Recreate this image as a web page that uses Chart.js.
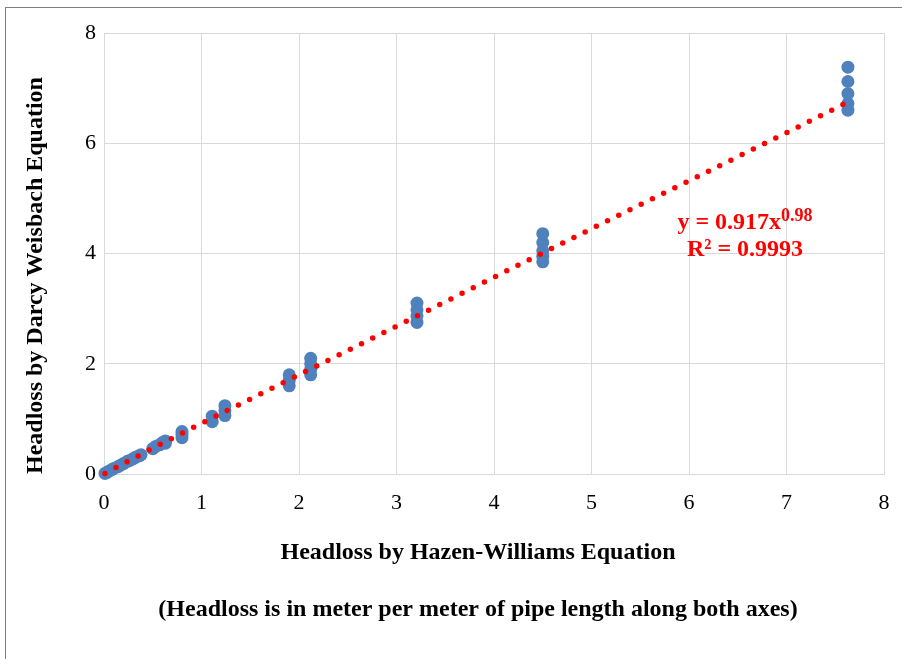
<!DOCTYPE html>
<html>
<head>
<meta charset="utf-8">
<script src="https://cdn.jsdelivr.net/npm/chart.js@4.4.1/dist/chart.umd.min.js"></script>
<style>
  html, body { margin: 0; padding: 0; background: #fff; width: 902px; height: 659px; overflow: hidden; }
  #frame { position: absolute; left: 5px; top: 7px; width: 910px; height: 670px; border-left: 1.5px solid #7f7f7f; border-top: 1.5px solid #7f7f7f; }
  #wrap { position: absolute; left: 0; top: 0; width: 902px; height: 659px; }
  #eq { position: absolute; left: 645px; width: 200px; top: 208px; text-align: center; font: bold 24px "Liberation Serif", "Times New Roman", serif; color: #ff0000; line-height: 27px; }
  #eq sup { font-size: 18px; vertical-align: 8px; line-height: 0; }
</style>
</head>
<body>
<div id="frame"></div>
<div id="wrap"><canvas id="c" width="902" height="659"></canvas></div>
<div id="eq">y = 0.917x<sup>0.98</sup><br>R² = 0.9993</div>
<script>
const hazenWilliams = [
  0.01, 0.03, 0.05, 0.08, 0.10, 0.14, 0.17, 0.20, 0.24, 0.27, 0.30, 0.33, 0.36, 0.38,
  0.50, 0.53, 0.57, 0.60, 0.63, 0.63,
  0.80, 0.80, 0.80,
  1.11, 1.11,
  1.24, 1.24, 1.24,
  1.90, 1.90, 1.90,
  2.12, 2.12, 2.12, 2.12,
  3.21, 3.21, 3.21, 3.21,
  4.50, 4.50, 4.50, 4.50, 4.50,
  7.63, 7.63, 7.63, 7.63, 7.63
];
const darcyWeisbach = [
  0.01, 0.03, 0.05, 0.08, 0.10, 0.13, 0.16, 0.19, 0.23, 0.25, 0.28, 0.31, 0.33, 0.35,
  0.46, 0.50, 0.53, 0.57, 0.56, 0.60,
  0.66, 0.72, 0.77,
  0.95, 1.05,
  1.06, 1.15, 1.24,
  1.60, 1.70, 1.80,
  1.80, 1.90, 2.00, 2.10,
  2.75, 2.87, 2.98, 3.10,
  3.85, 3.95, 4.05, 4.20, 4.36,
  6.60, 6.72, 6.90, 7.12, 7.38
];
// Power trendline points
const trendX = [0.01, 0.5, 1, 2, 3, 4, 5, 6, 7, 7.6];
const trendY = [0.01, 0.47, 0.92, 1.80, 2.68, 3.57, 4.45, 5.32, 6.19, 6.72];
const xTicks = [0, 1, 2, 3, 4, 5, 6, 7, 8];
const yTicks = [0, 2, 4, 6, 8];
const xTitleLines = ['Headloss by Hazen-Williams Equation', '', '(Headloss is in meter per meter of pipe length along both axes)'];
const yTitle = 'Headloss by Darcy Weisbach Equation';

const pts = hazenWilliams.map((x, i) => ({ x: x, y: darcyWeisbach[i] }));
const trend = trendX.map((x, i) => ({ x: x, y: trendY[i] }));

const tickFont = { family: "'Liberation Serif', 'Times New Roman', serif", size: 22 };
const titleFont = { family: "'Liberation Serif', 'Times New Roman', serif", size: 24, weight: 'bold', lineHeight: 1.19 };

new Chart(document.getElementById('c'), {
  type: 'scatter',
  data: {
    datasets: [
      {
        label: 'Power trendline',
        data: trend,
        showLine: true,
        borderColor: '#ff0000',
        borderWidth: 5.5,
        borderDash: [0, 12.5],
        borderCapStyle: 'round',
        pointRadius: 0,
        pointHoverRadius: 0,
        fill: false,
        clip: false,
        order: 0
      },
      {
        label: 'Headloss',
        data: pts,
        backgroundColor: '#4f81bd',
        borderColor: '#4f81bd',
        borderWidth: 0,
        pointRadius: 6.5,
        pointHoverRadius: 6.5,
        clip: false,
        order: 1
      }
    ]
  },
  options: {
    responsive: false,
    animation: false,
    devicePixelRatio: 1,
    layout: { padding: { left: 0, top: 33, right: 18, bottom: 34.7 } },
    plugins: { legend: { display: false }, tooltip: { enabled: false } },
    scales: {
      x: {
        type: 'linear',
        min: 0, max: 8,
        afterBuildTicks: (s) => { s.ticks = xTicks.map(v => ({ value: v })); },
        afterFit: (s) => { s.paddingRight = 0; s.paddingLeft = 0; },
        afterUpdate: (s) => {
          if (!s._shifted) {
            const orig = s.drawTitle;
            s.drawTitle = function () {
              const ctx = this.ctx;
              ctx.save();
              ctx.translate(-16, 0);
              orig.call(this);
              ctx.restore();
            };
            s._shifted = true;
          }
        },
        ticks: { font: tickFont, color: '#000', padding: 16, maxRotation: 0 },
        grid: { color: '#d9d9d9', lineWidth: 1, drawTicks: false },
        border: { color: '#d9d9d9' },
        title: { display: true, text: xTitleLines, font: titleFont, color: '#000', padding: { top: 6.2, bottom: 0 } }
      },
      y: {
        type: 'linear',
        min: 0, max: 8,
        afterBuildTicks: (s) => { s.ticks = yTicks.map(v => ({ value: v })); },
        afterFit: (s) => { s.width = 104; },
        ticks: { font: tickFont, color: '#000', padding: 8 },
        grid: { color: '#d9d9d9', lineWidth: 1, drawTicks: false },
        border: { color: '#d9d9d9' },
        title: { display: true, align: 'start', text: yTitle, font: titleFont, color: '#000', padding: { top: 22, bottom: 0 } }
      }
    }
  }
});
</script>
</body>
</html>
